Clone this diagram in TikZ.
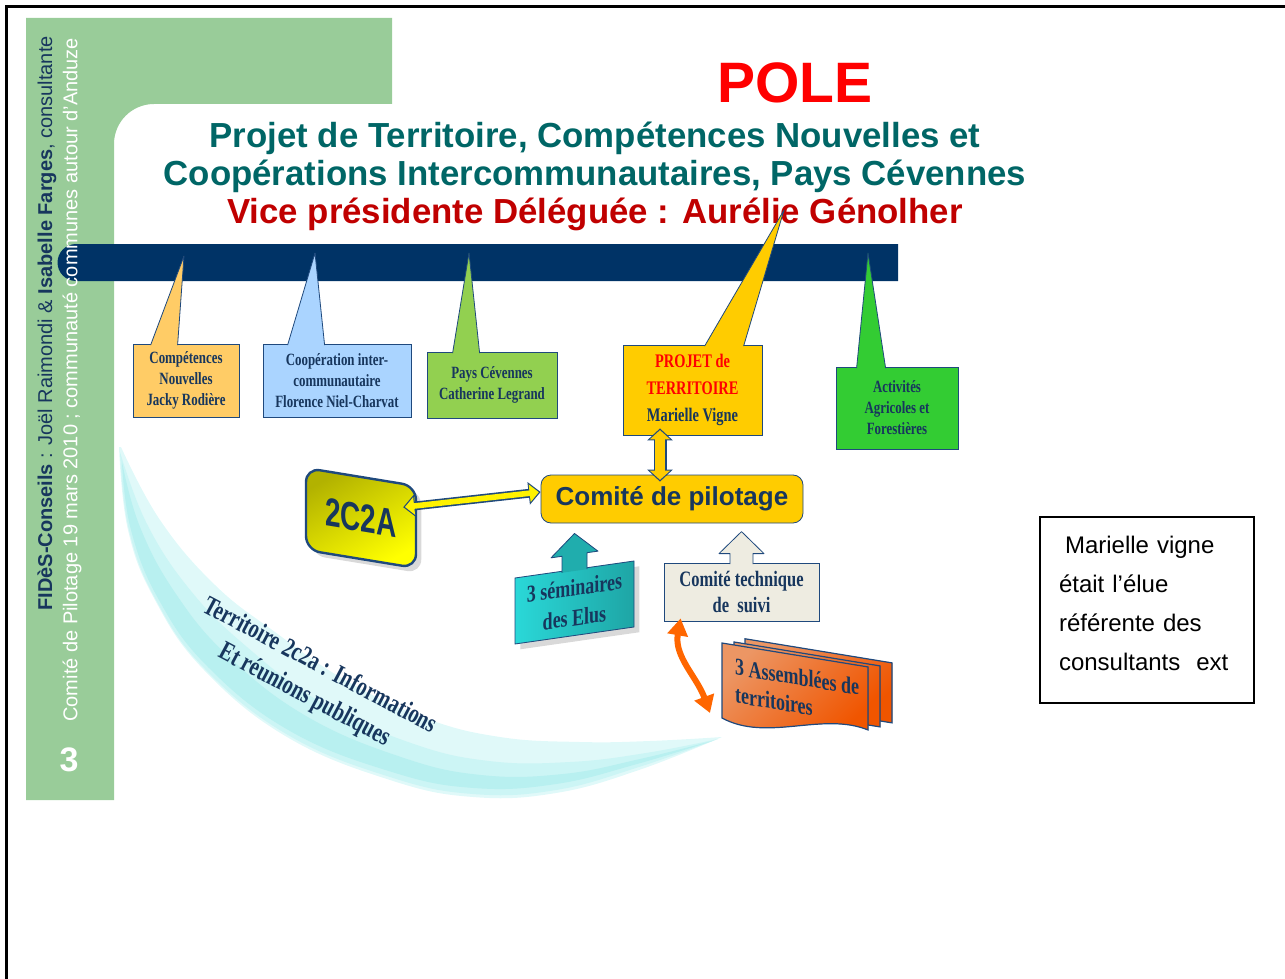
\documentclass[tikz,border=0pt]{standalone}
\usepackage{fontspec}
\setmainfont{Liberation Sans}
\newfontfamily\condserif[FakeStretch=0.75]{Liberation Serif}
\newfontfamily\narrowsans[FakeStretch=0.7]{Liberation Sans}
\usepackage{xcolor}
\usepackage{tikz}
\usetikzlibrary{shapes,arrows,arrows.meta,positioning,calc,shadows}

\definecolor{slidegreen}{RGB}{153,204,153}
\definecolor{barnavy}{RGB}{0,51,102}
\definecolor{titleteal}{RGB}{0,102,102}
\definecolor{darkred}{RGB}{192,0,0}
\definecolor{textnavy}{RGB}{23,54,93}
\definecolor{edgenavy}{RGB}{31,73,125}
\definecolor{orangebox}{RGB}{255,204,102}
\definecolor{bluebox}{RGB}{170,212,255}
\definecolor{greenbox}{RGB}{146,208,80}
\definecolor{goldbox}{RGB}{255,204,0}
\definecolor{limebox}{RGB}{51,204,51}
\definecolor{tealbright}{RGB}{42,216,216}
\definecolor{tealdark}{RGB}{30,165,165}
\definecolor{beigebox}{RGB}{238,236,225}
\definecolor{pagelight}{RGB}{236,150,100}
\definecolor{pagedark}{RGB}{240,85,0}
\definecolor{oliveyellow}{RGB}{178,178,0}
\definecolor{swooshpale}{RGB}{224,249,249}
\definecolor{swooshmid}{RGB}{204,245,245}
\definecolor{swooshdeep}{RGB}{184,240,240}
\definecolor{arroworange}{RGB}{255,102,0}

\begin{document}
\begin{tikzpicture}[
    x=0.5pt, y=-0.5pt,
    topic/.style={rectangle, draw=edgenavy, fill=#1, text=textnavy, align=center, inner sep=1pt, font=\condserif\bfseries\fontsize{8.6}{10.5}\selectfont},
    pointer/.style={fill=#1, draw=edgenavy, line join=round},
    navyarrow/.style={draw=edgenavy, line width=4.4pt, {Triangle[width=11pt,length=6pt]}-{Triangle[width=11pt,length=6pt]}},
    fillarrow/.style={draw=#1, line width=2.8pt, shorten <=0.9pt, shorten >=0.9pt, {Triangle[width=8.6pt,length=4.6pt]}-{Triangle[width=8.6pt,length=4.6pt]}},
    widenavyarrow/.style={draw=edgenavy, line width=6.5pt, {Triangle[width=12.5pt,length=6pt]}-{Triangle[width=12.5pt,length=6pt]}},
    widefillarrow/.style={draw=#1, line width=5pt, shorten <=0.9pt, shorten >=0.9pt, {Triangle[width=10pt,length=4.6pt]}-{Triangle[width=10pt,length=4.6pt]}},
    page/.style={draw=edgenavy, line width=0.6pt, top color=pagelight, bottom color=pagedark, shading angle=45}
]
\useasboundingbox (0,0) rectangle (1285,979);

% Frame
\draw[line width=1.5pt] (6,979) -- (6,7) -- (1285,7);

% Green panel
\fill[slidegreen] (26,18) -- (392,18) -- (392,104) -- (154,104) arc[start angle=-90, end angle=-180, radius=40] -- (114,800) -- (26,800) -- cycle;

% Swoosh
\fill[swooshpale] plot[smooth, tension=0.7] coordinates {(119,447) (128,530) (155,600) (204,670) (287,737) (390,780) (473,797) (556,793) (639,770) (722,737)}
    -- plot[smooth, tension=0.7] coordinates {(722,737) (650,741) (580,742) (500,737) (425,718) (345,680) (275,632) (215,585) (160,520) (121,447)} -- cycle;
\fill[swooshmid] plot[smooth, tension=0.7] coordinates {(120,452) (129,530) (156,600) (205,669) (288,735) (390,777) (473,794) (556,790) (639,767) (718,739)}
    -- plot[smooth, tension=0.7] coordinates {(718,739) (646,753) (570,762) (489,761) (411,743) (322,703) (247,647) (191,591) (147,524) (120,452)} -- cycle;
\fill[swooshdeep] plot[smooth, tension=0.7] coordinates {(122,462) (131,530) (159,600) (208,667) (290,731) (392,772) (474,788) (556,784) (637,764) (712,741)}
    -- plot[smooth, tension=0.7] coordinates {(712,741) (640,759) (563,774) (481,775) (401,757) (306,716) (228,656) (176,594) (140,527) (122,462)} -- cycle;
\node[rotate=-28, align=center, text=textnavy, font=\condserif\bfseries\fontsize{13.5}{16.5}\selectfont] (publics) at (312,681) {Territoire 2c2a : Informations\\Et réunions publiques};

% Title
\node[text=red, font=\bfseries\fontsize{28.5}{30}\selectfont] (pole) at (795,83) {POLE};
\node[align=center, text=titleteal, font=\bfseries\fontsize{17.4}{19}\selectfont] (title) at (595,176) {Projet de Territoire, Compétences Nouvelles et\\Coopérations Intercommunautaires, Pays Cévennes\\\textcolor{darkred}{Vice présidente Déléguée : Aurélie Génolher}};

% Bar
\fill[barnavy] (898,244) -- (76,244) arc[start angle=-90, end angle=-270, radius=18.5] -- (898,281) -- cycle;

% Side texts
\node[rotate=90, anchor=west, inner sep=0pt, text=textnavy, font=\fontsize{10}{12}\selectfont] (credit) at (47,611) {\textbf{FIDèS-Conseils} : Joël Raimondi \& \textbf{Isabelle Farges}, consultante};
\node[rotate=90, anchor=west, inner sep=0pt, text=white, font=\fontsize{10}{12}\selectfont] (meeting) at (72,722) {Comité de Pilotage 19 mars 2010 ; communauté communes autour d’Anduze};
\node[text=white, font=\bfseries\fontsize{17}{20}\selectfont] (slideno) at (69,760) {3};

% Competences
\node[topic=orangebox, minimum width=53pt, minimum height=36.5pt] (comp) at (186,380.5) {Compétences\\Nouvelles\\Jacky Rodière};
\filldraw[pointer=orangebox] ($(comp.north west)+(18,1.5)$) -- (184,256) -- ($(comp.north west)+(45,1.5)$);

% Cooperation
\node[topic=bluebox, minimum width=74pt, minimum height=36.5pt] (coop) at (337,380.5) {Coopération inter-\\communautaire\\Florence Niel-Charvat};
\filldraw[pointer=bluebox] ($(coop.north west)+(25,1.5)$) -- (315,253) -- ($(coop.north west)+(62,1.5)$);

% Pays Cevennes
\node[topic=greenbox, minimum width=65pt, minimum height=33pt] (pays) at (492,385) {Pays Cévennes\\Catherine Legrand};
\filldraw[pointer=greenbox] ($(pays.north west)+(26,1.5)$) -- (469,253) -- ($(pays.north west)+(53,1.5)$);

% Projet de territoire
\node[topic=goldbox, minimum width=69.5pt, minimum height=45pt, font=\condserif\bfseries\fontsize{9.6}{13.5}\selectfont] (projet) at (692.5,390) {\textcolor{red}{PROJET de}\\\textcolor{red}{TERRITOIRE}\\Marielle Vigne};
\filldraw[pointer=goldbox] ($(projet.north west)+(82,1.5)$) -- (784,210) -- ($(projet.north west)+(121,1.5)$);

% Activites
\node[topic=limebox, minimum width=61pt, minimum height=41pt] (activ) at (897,408) {Activités\\Agricoles et\\Forestières};
\filldraw[pointer=limebox] ($(activ.north west)+(21,1.5)$) -- (868,253) -- ($(activ.north west)+(50,1.5)$);

% Comite de pilotage
\node[rounded corners=5pt, draw=edgenavy, fill=goldbox, minimum width=131pt, minimum height=24pt, text=textnavy, font=\bfseries\fontsize{13}{15}\selectfont] (pilot) at (672,499) {Comité de pilotage};
\draw[widenavyarrow] ($(projet.south)+(-32.5,-7)$) -- ($(pilot.north)+(-12,7)$);
\draw[widefillarrow=goldbox] ($(projet.south)+(-32.5,-7)$) -- ($(pilot.north)+(-12,7)$);

% 2C2A
\begin{scope}[shift={(361,518)}, yslant=-0.164]
\node[rounded corners=7pt, draw=edgenavy, line width=1.2pt, minimum width=55pt, minimum height=41pt, top color=oliveyellow, bottom color=yellow, shading angle=30, drop shadow={opacity=0.3}, text=textnavy, font=\narrowsans\bfseries\fontsize{20}{22}\selectfont, transform shape] (c2a) at (0,0) {2C2A};
\end{scope}
\draw[navyarrow] ($(c2a.east)+(-14,-20)$) -- ($(pilot.west)+(0,-7)$);
\draw[fillarrow=yellow] ($(c2a.east)+(-14,-20)$) -- ($(pilot.west)+(0,-7)$);

% Seminaires
\begin{scope}[shift={(515,578)}, yslant=0.143]
\node[draw=edgenavy, left color=tealbright, right color=tealdark, minimum width=59.5pt, minimum height=33pt, drop shadow={opacity=0.3}, align=center, text=textnavy, font=\condserif\bfseries\fontsize{12}{15}\selectfont, transform shape] (semin) at (59.5,33) {3 séminaires\\des Elus};
\filldraw[fill=tealdark!85!tealbright, draw=edgenavy, line join=round] (47,1.5) -- (47,-15) -- (36,-15) -- (59.5,-36) -- (83,-15) -- (72,-15) -- (72,1.5);
\end{scope}

% Comite technique
\node[topic=beigebox, minimum width=77.5pt, minimum height=29pt, font=\condserif\bfseries\fontsize{11}{13}\selectfont] (ctech) at (741.5,592) {Comité technique\\de~~suivi};
\filldraw[pointer=beigebox] ($(ctech.north)+(-11.5,1.5)$) -- ++(0,-10.5) -- ++(-11,0) -- ++(22.5,-22) -- ++(22.5,22) -- ++(-11,0) -- ++(0,10.5);

% Assemblees
\begin{scope}[shift={(722,643)}, yslant=-0.164]
\filldraw[page] (23,-8) rectangle (170,52);
\filldraw[page] (12,-3) rectangle (158,58);
\filldraw[page] (0,0) -- (146,0) -- (146,63) .. controls (100,52) and (45,92) .. (0,75) -- cycle;
\node[anchor=north west, align=left, text=textnavy, font=\condserif\bfseries\fontsize{12}{14}\selectfont, transform shape] (asm) at (6,6) {3 Assemblées de\\territoires};
\end{scope}
\coordinate (asmtip) at (710,713);
\draw[arroworange, line width=3pt, {Triangle[width=10pt,length=8.5pt]}-{Triangle[width=10pt,length=8.5pt]}] ($(ctech.south west)+(17,-3)$) to[out=-100, in=110] (asmtip);

% Note
\node[text width=88pt, align=left, inner sep=0pt, font=\fontsize{12}{19.5}\selectfont] (note) at (1147,603) {\hspace{3pt}Marielle vigne\\était l’élue\\référente des\\consultants~~ext};
\draw[line width=1pt] ($(note.center)+(-107,-86)$) rectangle ($(note.center)+(107,100)$);

\end{tikzpicture}
\end{document}
